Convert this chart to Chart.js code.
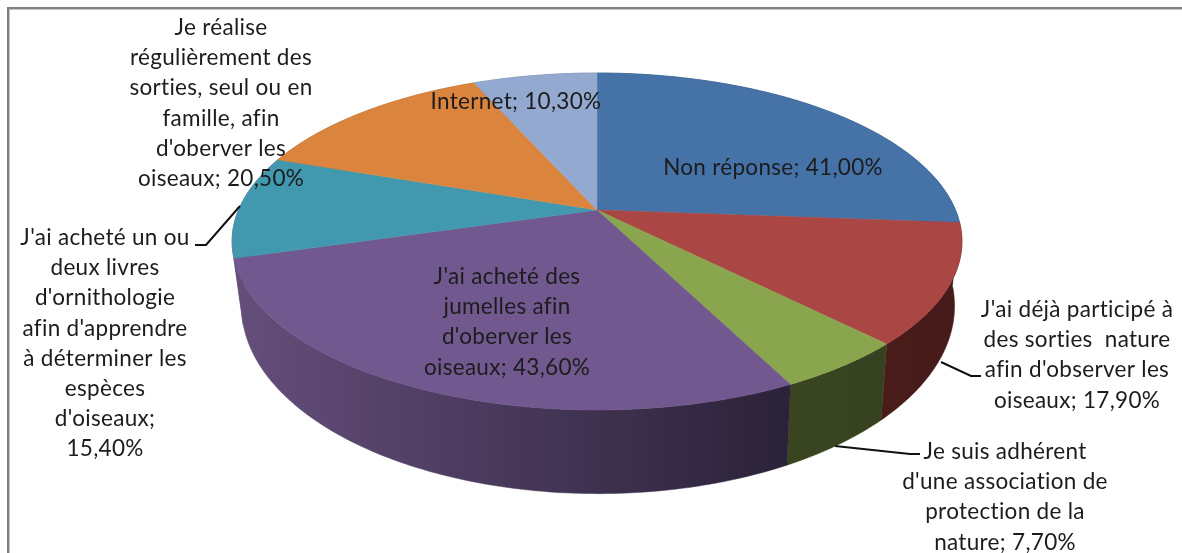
<!DOCTYPE html>
<html>
<head>
<meta charset="utf-8">
<style>
  html, body { margin: 0; padding: 0; background: #fff; overflow: hidden; }
  canvas { display: block; }
</style>
<script src="https://cdn.jsdelivr.net/npm/chart.js@4/dist/chart.umd.min.js"></script>
</head>
<body>
<canvas id="chart" width="1182" height="553"></canvas>
<script>
const categories = [
    'Non réponse',
    "J'ai déjà participé à des sorties nature afin d'observer les oiseaux",
    "Je suis adhérent d'une association de protection de la nature",
    "J'ai acheté des jumelles afin d'oberver les oiseaux",
    "J'ai acheté un ou deux livres d'ornithologie afin d'apprendre à déterminer les espèces d'oiseaux",
    "Je réalise régulièrement des sorties, seul ou en famille, afin d'oberver les oiseaux",
    'Internet'
];
const values = [41.0, 17.9, 7.7, 43.6, 15.4, 20.5, 10.3];

// wrapped label text, {v} is the value
const labelLines = [
    ['Non réponse; {v}'],
    ["J'ai déjà participé à", 'des sorties  nature', "afin d'observer les", 'oiseaux; {v}'],
    ['Je suis adhérent', "d'une association de", 'protection de la', 'nature; {v}'],
    ["J'ai acheté des", 'jumelles afin', "d'oberver les", 'oiseaux; {v}'],
    ["J'ai acheté un ou", 'deux livres', "d'ornithologie", "afin d'apprendre", 'à déterminer les', 'espèces', "d'oiseaux;", '{v}'],
    ['Je réalise', 'régulièrement des', 'sorties, seul ou en', 'famille, afin', "d'oberver les", 'oiseaux; {v}'],
    ['Internet; {v}']
];
const labelCenterX = [773, 1077, 1005, 507, 105, 221, 516];
const labelFirstY = [168, 310, 452, 277, 238, 28, 102];
const lineStep = 30.1;

const leaders = [
    null,
    [[941, 362], [971, 376], [981, 376]],
    [[835, 446], [910, 454], [920, 454]],
    null,
    [[240, 206], [206, 245], [195, 245]],
    null,
    null
];

const topColors = ['#4572a7', '#aa4643', '#89a54e', '#71588f', '#4198af', '#db843d', '#93a9cf'];
const sideLeft = ['#2b4566', '#4a1c1a', '#3a4520', '#654e7b', '#654e7b', '#8c5426', '#5d6c85'];
const sideRight = ['#2b4566', '#451b19', '#364120', '#2a2238', '#654e7b', '#8c5426', '#5d6c85'];

// the pie is seen in perspective, so the circle goes through a projection
const persp = 0.187;
const topFace = { x: 597, y: 210, rx: 358.5, ry: 162.6, sx: 1 };
const bottomFace = { x: 598, y: 271, rx: 358.5, ry: 181, sx: 0.977 };

function project(face, angle) {
    const c = Math.cos(angle), s = Math.sin(angle);
    const w = 1 - persp * s;
    return [face.x + face.sx * face.rx * c / w, face.y + face.ry * s / w];
}

function rim(arc, face) {
    const steps = Math.max(2, Math.ceil((arc.endAngle - arc.startAngle) * 60));
    const pts = [];
    for (let i = 0; i <= steps; i++) {
        pts.push(project(face, arc.startAngle + (arc.endAngle - arc.startAngle) * i / steps));
    }
    return pts;
}

function tracePolygon(ctx, pts) {
    ctx.beginPath();
    pts.forEach((p, i) => i ? ctx.lineTo(p[0], p[1]) : ctx.moveTo(p[0], p[1]));
    ctx.closePath();
}

const pie3d = {
    id: 'pie3d',
    beforeDraw(chart) {
        const ctx = chart.ctx;
        ctx.save();
        ctx.fillStyle = '#fff';
        ctx.fillRect(0, 0, chart.width, chart.height);
        ctx.fillStyle = '#c4c4c4';
        ctx.fillRect(8, 9, chart.width - 8, 1);
        ctx.fillRect(9, 9, 1, chart.height - 9);
        ctx.fillStyle = '#808080';
        ctx.fillRect(7, 7, chart.width - 7, 2);
        ctx.fillRect(7, 7, 2, chart.height - 7);
        ctx.restore();
    },
    beforeDatasetDraw(chart) {
        const ctx = chart.ctx;
        const arcs = chart.getDatasetMeta(0).data;
        ctx.save();
        // sides first, the top faces cover whatever is at the back
        arcs.forEach((arc, i) => {
            const top = rim(arc, topFace);
            const bottom = rim(arc, bottomFace);
            const xs = top.concat(bottom).map(p => p[0]);
            const grad = ctx.createLinearGradient(Math.min(...xs), 0, Math.max(...xs), 0);
            grad.addColorStop(0, sideLeft[i]);
            grad.addColorStop(1, sideRight[i]);
            ctx.fillStyle = grad;
            ctx.strokeStyle = grad;
            ctx.lineWidth = 0.5;
            tracePolygon(ctx, top.concat(bottom.reverse()));
            ctx.fill();
            ctx.stroke();
        });
        arcs.forEach((arc, i) => {
            ctx.fillStyle = topColors[i];
            ctx.strokeStyle = topColors[i];
            ctx.lineWidth = 0.5;
            tracePolygon(ctx, [[topFace.x, topFace.y]].concat(rim(arc, topFace)));
            ctx.fill();
            ctx.stroke();
        });
        ctx.restore();
        return false;
    },
    afterDraw(chart) {
        const ctx = chart.ctx;
        ctx.save();
        ctx.strokeStyle = '#111';
        ctx.lineWidth = 2;
        leaders.forEach(line => {
            if (!line) return;
            ctx.beginPath();
            line.forEach((p, i) => i ? ctx.lineTo(p[0], p[1]) : ctx.moveTo(p[0], p[1]));
            ctx.stroke();
        });
        ctx.font = '22.5px Lato';
        ctx.letterSpacing = '0.3px'; // also keeps the fi ligature away
        ctx.fillStyle = '#1c1c1c';
        ctx.textAlign = 'center';
        ctx.textBaseline = 'middle';
        labelLines.forEach((lines, i) => {
            const v = values[i].toFixed(2).replace('.', ',') + '%';
            lines.forEach((line, n) => {
                ctx.fillText(line.replace('{v}', v), labelCenterX[i], labelFirstY[i] + n * lineStep);
            });
        });
        ctx.restore();
    }
};

new Chart(document.getElementById('chart'), {
    type: 'pie',
    data: {
        labels: categories,
        datasets: [{ data: values, backgroundColor: topColors, borderWidth: 0 }]
    },
    options: {
        responsive: false,
        animation: false,
        events: [],
        plugins: { legend: { display: false }, tooltip: { enabled: false } }
    },
    plugins: [pie3d]
});
</script>
</body>
</html>
